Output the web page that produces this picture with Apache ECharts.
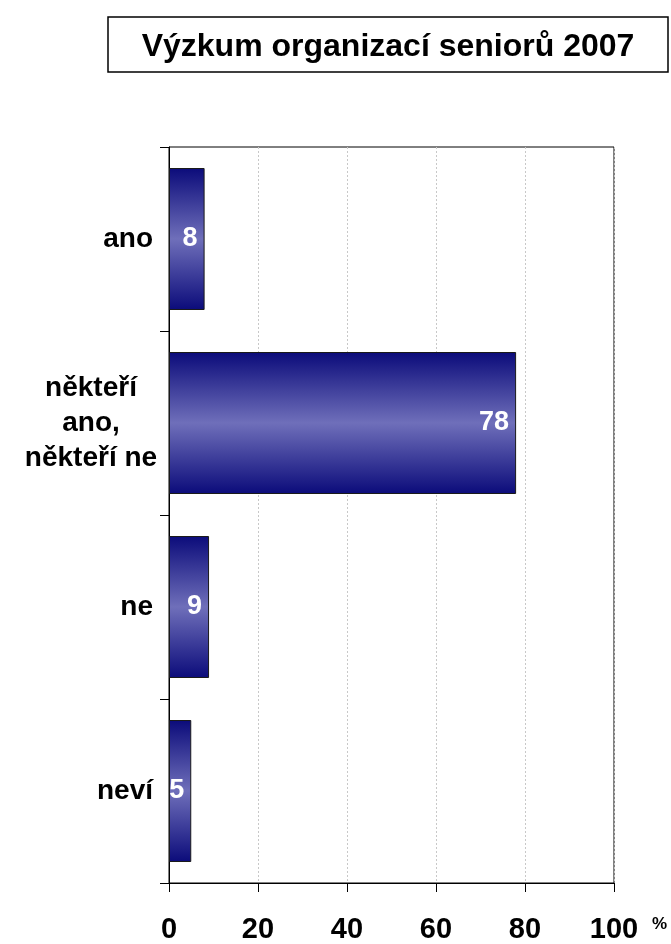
<!DOCTYPE html>
<html>
<head>
<meta charset="utf-8">
<title>Výzkum organizací seniorů 2007</title>
<script src="https://cdn.jsdelivr.net/npm/echarts@6/dist/echarts.min.js"></script>
<style>
html, body { margin: 0; padding: 0; background: #fff; }
#chart { width: 671px; height: 944px; }
</style>
</head>
<body>
<div id="chart"></div>
<script>
// data
var titleText = 'Výzkum organizací seniorů 2007';
var categories = ['ano', 'někteří\nano,\nněkteří ne', 'ne', 'neví'];
var values = [8, 78, 9, 5];
var axisMin = 0;
var axisMax = 100;
var axisStep = 20;
var unitLabel = '%';

var font = '"Liberation Sans", Arial, sans-serif';

var chart = echarts.init(document.getElementById('chart'));

chart.setOption({
  backgroundColor: '#fff',
  animation: false,
  title: {
    text: titleText,
    left: 383,
    top: 26,
    textAlign: 'center',
    textStyle: { fontFamily: font, fontSize: 32, fontWeight: 'bold', color: '#000' }
  },
  graphic: [
    { // box round the title
      type: 'rect',
      shape: { x: 108, y: 17, width: 560, height: 55 },
      style: { fill: 'none', stroke: '#000', lineWidth: 1.5 },
      z: -1
    },
    {
      type: 'text',
      left: 652,
      top: 916,
      style: { text: unitLabel, font: 'bold 17px ' + font, fill: '#000' }
    }
  ],
  grid: {
    left: 169,
    right: 57,
    top: 147,
    bottom: 60,
    show: true,
    borderColor: '#000',
    borderWidth: 1,
    backgroundColor: 'transparent'
  },
  xAxis: {
    type: 'value',
    min: axisMin,
    max: axisMax,
    interval: axisStep,
    axisLine: { show: true, lineStyle: { color: '#000', width: 1 } },
    axisTick: { show: true, length: 9, lineStyle: { color: '#000' } },
    splitLine: { show: true, lineStyle: { color: '#c8c8c8', type: [2, 2] } },
    axisLabel: { margin: 32, fontFamily: font, fontSize: 29, fontWeight: 'bold', color: '#000' }
  },
  yAxis: {
    type: 'category',
    data: categories,
    inverse: true,
    axisLine: { show: true, lineStyle: { color: '#000', width: 1 } },
    axisTick: { show: true, length: 9, lineStyle: { color: '#000' } },
    axisLabel: {
      margin: 16,
      fontFamily: font,
      fontSize: 28,
      fontWeight: 'bold',
      color: '#000',
      lineHeight: 35,
      formatter: function (v) {
        // multi-line label is centred in its block
        if (v.indexOf('\n') < 0) return v;
        return v.split('\n').map(function (s) { return '{m|' + s + '}'; }).join('\n');
      },
      rich: {
        m: { width: 124, align: 'center', fontFamily: font, fontSize: 28, fontWeight: 'bold', color: '#000', lineHeight: 35 }
      }
    }
  },
  series: [{
    type: 'bar',
    data: values,
    barWidth: 142,
    itemStyle: {
      borderColor: '#1a1a1a',
      borderWidth: 1,
      color: new echarts.graphic.LinearGradient(0, 0, 0, 1, [
        { offset: 0, color: '#0b0b7a' },
        { offset: 0.5, color: '#6f6fba' },
        { offset: 1, color: '#0b0b7a' }
      ])
    },
    label: {
      show: true,
      position: 'insideRight',
      distance: 7,
      formatter: '{c}',
      fontFamily: font,
      fontSize: 27,
      fontWeight: 'bold',
      color: '#fff'
    }
  }]
});
</script>
</body>
</html>
